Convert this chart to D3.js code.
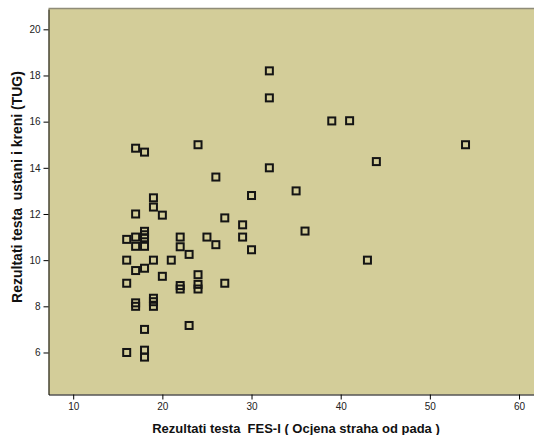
<!DOCTYPE html>
<html>
<head>
<meta charset="utf-8">
<script src="https://cdn.jsdelivr.net/npm/d3@7"></script>
<style>
	body { margin: 0; background: #fff; }
	svg text { font-family: "Liberation Sans", Arial, sans-serif; }
	.axis-title { white-space: pre; }
</style>
</head>
<body>
<div id="chartDiv"></div>
<script>
// FES-I score (x) and TUG time (y)
var fesScores = [
	16, 16, 16, 16,
	17, 17, 17, 17, 17, 17, 17,
	18, 18, 18, 18, 18, 18, 18, 18, 18,
	19, 19, 19, 19, 19, 19,
	20, 20,
	21,
	22, 22, 22, 22,
	23, 23,
	24, 24, 24, 24,
	25,
	26, 26,
	27, 27,
	29, 29,
	30, 30,
	32, 32, 32,
	35, 36, 39, 41, 43, 44, 54
];
var tugScores = [
	10.9, 10.0, 9.0, 6.0,
	14.85, 12.0, 11.0, 10.6, 9.55, 8.15, 8.0,
	14.68, 11.25, 11.1, 10.97, 10.6, 9.65, 7.0, 6.1, 5.8,
	12.7, 12.3, 10.0, 8.35, 8.2, 8.0,
	11.95, 9.3,
	10.0,
	11.0, 10.58, 8.9, 8.75,
	10.25, 7.17,
	15.0, 9.37, 8.95, 8.75,
	11.0,
	13.6, 10.67,
	11.83, 9.0,
	11.53, 11.0,
	12.8, 10.45,
	18.2, 17.03, 14.0,
	13.0, 11.26, 16.03, 16.04, 10.0, 14.27, 15.0
];
var xTicks = [10, 20, 30, 40, 50, 60];
var yTicks = [6, 8, 10, 12, 14, 16, 18, 20];

var xTitle = "Rezultati testa  FES-I ( Ocjena straha od pada )";
var yTitle = "Rezultati testa  ustani i kreni (TUG)";

var width = 534, height = 435;
var plot = { left: 48.5, top: 9, right: 534, bottom: 394.5 };

var points = fesScores.map(function(d, i) { return { fes: d, tug: tugScores[i] }; });

var x = d3.scaleLinear().domain([7.23, 61.68]).range([plot.left, plot.right]);
var y = d3.scaleLinear().domain([4.18, 20.88]).range([plot.bottom, plot.top]);

var svg = d3.select("#chartDiv").append("svg")
	.attr("width", width)
	.attr("height", height);

svg.append("rect")
	.attr("x", plot.left).attr("y", plot.top)
	.attr("width", plot.right - plot.left)
	.attr("height", plot.bottom - plot.top)
	.attr("fill", "#d3cd99");

svg.append("line")
	.attr("x1", plot.left).attr("x2", plot.right)
	.attr("y1", plot.top - 0.5).attr("y2", plot.top - 0.5)
	.attr("stroke", "#8f8c78").attr("stroke-width", 1.5);

var xAxis = svg.append("g")
	.attr("transform", "translate(0," + plot.bottom + ")")
	.call(d3.axisBottom(x).tickValues(xTicks).tickSize(5).tickPadding(3).tickSizeOuter(0));

var yAxis = svg.append("g")
	.attr("transform", "translate(" + plot.left + ",0)")
	.call(d3.axisLeft(y).tickValues(yTicks).tickSize(5).tickPadding(3).tickSizeOuter(0));

[xAxis, yAxis].forEach(function(ax) {
	ax.select(".domain").attr("stroke", "#000");
	ax.selectAll(".tick line").attr("stroke", "#000");
	ax.selectAll(".tick text")
		.attr("fill", "#222")
		.style("font-size", "10px")
		.style("font-family", "'Liberation Sans', Arial, sans-serif");
});

svg.append("g").selectAll("rect")
	.data(points)
	.join("rect")
	.attr("x", function(d) { return x(d.fes) - 3.5; })
	.attr("y", function(d) { return y(d.tug) - 3.5; })
	.attr("width", 7)
	.attr("height", 7)
	.attr("fill", "none")
	.attr("stroke", "#141414")
	.attr("stroke-width", 2);

svg.append("text")
	.attr("class", "axis-title")
	.attr("x", 296).attr("y", 433)
	.attr("text-anchor", "middle")
	.style("font-size", "13px")
	.style("font-weight", "bold")
	.attr("fill", "#111")
	.text(xTitle);

svg.append("text")
	.attr("class", "axis-title")
	.attr("transform", "translate(22,187) rotate(-90)")
	.attr("text-anchor", "middle")
	.style("font-size", "14px")
	.style("font-weight", "bold")
	.attr("fill", "#111")
	.text(yTitle);
</script>
</body>
</html>
